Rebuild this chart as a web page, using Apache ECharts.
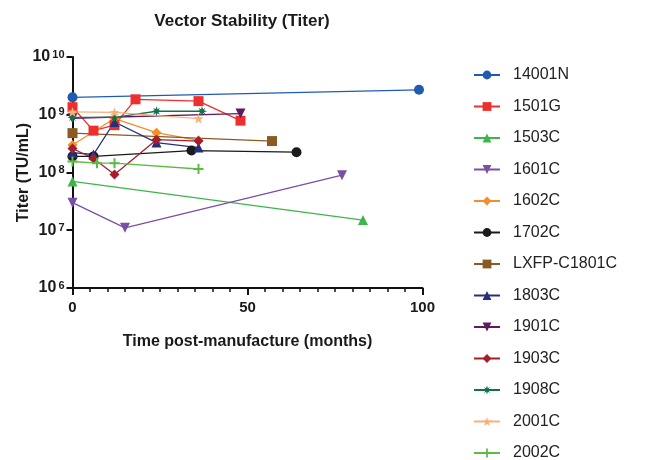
<!DOCTYPE html>
<html>
<head>
<meta charset="utf-8">
<script src="https://cdn.jsdelivr.net/npm/echarts@6/dist/echarts.min.js"></script>
<style>
  html, body { margin: 0; padding: 0; background: #fff; }
  #chart { width: 646px; height: 460px; }
</style>
</head>
<body>
<div id="chart"></div>
<script>
// months post-manufacture and titer (TU/mL) per lot
const m14001N = [0, 99];
const t14001N = [2.0e9, 2.7e9];
const m1501G = [0, 6, 12, 18, 36, 48];
const t1501G = [1.35e9, 5.3e8, 6.6e8, 1.85e9, 1.72e9, 7.9e8];
const m1503C = [0, 83];
const t1503C = [7.0e7, 1.5e7];
const m1601C = [0, 15, 77];
const t1601C = [3.0e7, 1.1e7, 9.0e7];
const m1602C = [0, 12, 24, 36];
const t1602C = [3.0e8, 8.6e8, 4.9e8, 3.6e8];
const m1702C = [0, 6, 34, 64];
const t1702C = [1.9e8, 1.9e8, 2.4e8, 2.25e8];
const mLXFP = [0, 57];
const tLXFP = [4.8e8, 3.5e8];
const m1803C = [0, 6, 12, 24, 36];
const t1803C = [2.2e8, 2.05e8, 7.5e8, 3.3e8, 2.7e8];
const m1901C = [0, 48];
const t1901C = [8.7e8, 1.05e9];
const m1903C = [0, 6, 12, 24, 36];
const t1903C = [2.6e8, 1.75e8, 9.2e7, 3.7e8, 3.5e8];
const m1908C = [0, 12, 24, 37];
const t1908C = [9.0e8, 9.0e8, 1.15e9, 1.15e9];
const m2001C = [0, 12, 36];
const t2001C = [1.12e9, 1.1e9, 8.6e8];
const m2002C = [0, 7, 12, 36];
const t2002C = [1.55e8, 1.45e8, 1.45e8, 1.15e8];

const xTicks = [0, 50, 100];

const plusPath = 'path://M4,0H6V4H10V6H6V10H4V6H0V4H4Z';
const burstPath = 'path://M5,0L6,3L8.5,1.5L7,4L10,5L7,6L8.5,8.5L6,7L5,10L4,7L1.5,8.5L3,6L0,5L3,4L1.5,1.5L4,3Z';
const starPath = 'path://M5,0L6.2,3.6L10,3.8L7,6.1L8.1,10L5,7.7L1.9,10L3,6.1L0,3.8L3.8,3.6Z';

const lots = [
  { name: '14001N', m: m14001N, t: t14001N, color: '#1f5cb0', symbol: 'circle' },
  { name: '1501G', m: m1501G, t: t1501G, color: '#ee2f2f', symbol: 'rect' },
  { name: '1503C', m: m1503C, t: t1503C, color: '#3db54b', symbol: 'triangle' },
  { name: '1601C', m: m1601C, t: t1601C, color: '#7a4fa6', symbol: 'triangle', rotate: 180 },
  { name: '1602C', m: m1602C, t: t1602C, color: '#f58d2a', symbol: 'diamond' },
  { name: '1702C', m: m1702C, t: t1702C, color: '#1a1a1a', symbol: 'circle' },
  { name: 'LXFP-C1801C', m: mLXFP, t: tLXFP, color: '#8a5a22', symbol: 'rect' },
  { name: '1803C', m: m1803C, t: t1803C, color: '#24307c', symbol: 'triangle' },
  { name: '1901C', m: m1901C, t: t1901C, color: '#5e1b5e', symbol: 'triangle', rotate: 180 },
  { name: '1903C', m: m1903C, t: t1903C, color: '#a61e2c', symbol: 'diamond' },
  { name: '1908C', m: m1908C, t: t1908C, color: '#13714b', symbol: burstPath },
  { name: '2001C', m: m2001C, t: t2001C, color: '#f6b07c', symbol: starPath },
  { name: '2002C', m: m2002C, t: t2002C, color: '#5cbb45', symbol: plusPath },
];

const font = 'Liberation Sans, Arial, sans-serif';

const chart = echarts.init(document.getElementById('chart'));

const option = {
  animation: false,
  title: {
    text: 'Vector Stability (Titer)',
    left: 237,
    top: 8,
    textAlign: 'center',
    textStyle: { fontFamily: font, fontSize: 17, fontWeight: 'bold', color: '#1a1a1a' },
  },
  legend: {
    orient: 'vertical',
    left: 473,
    top: 67,
    height: 400,
    padding: 0,
    itemWidth: 26,
    itemHeight: 11,
    itemGap: 15.5,
    textStyle: { fontFamily: font, fontSize: 16, color: '#222', padding: [0, 0, 0, 8] },
    data: lots.map((l) => l.name),
  },
  grid: { left: 72.5, top: 57, width: 350, height: 231 },
  xAxis: {
    type: 'value',
    min: 0,
    max: 100,
    interval: 50,
    name: 'Time post-manufacture (months)',
    nameLocation: 'middle',
    nameGap: 46,
    nameTextStyle: { fontFamily: font, fontSize: 16, fontWeight: 'bold', color: '#1a1a1a' },
    axisLine: { onZero: false, lineStyle: { color: '#111', width: 2 } },
    axisTick: { length: 7, lineStyle: { color: '#111', width: 2 } },
    minorTick: { show: true, splitNumber: 10, length: 4, lineStyle: { color: '#111', width: 1.5 } },
    axisLabel: {
      margin: 12,
      fontFamily: font,
      fontSize: 15,
      fontWeight: 'bold',
      color: '#1a1a1a',
      formatter: (v) => (xTicks.includes(v) ? String(v) : ''),
    },
    splitLine: { show: false },
  },
  yAxis: {
    type: 'log',
    logBase: 10,
    min: 1e6,
    max: 1e10,
    splitNumber: 4,
    name: 'Titer (TU/mL)',
    nameLocation: 'middle',
    nameGap: 41,
    nameMoveOverlap: false,
    nameTextStyle: { fontFamily: font, fontSize: 16, fontWeight: 'bold', color: '#1a1a1a' },
    axisLine: { show: true, lineStyle: { color: '#111', width: 2 } },
    axisTick: { show: true, length: 6, lineStyle: { color: '#111', width: 2 } },
    axisLabel: {
      margin: 8,
      color: '#1a1a1a',
      formatter: (v) => '{b|10}{s|' + Math.round(Math.log10(v)) + '}',
      rich: {
        b: { fontFamily: font, fontSize: 16, fontWeight: 'bold', color: '#1a1a1a' },
        s: { fontFamily: font, fontSize: 11, fontWeight: 'bold', color: '#1a1a1a', verticalAlign: 'top', padding: [0, 0, 4, 2] },
      },
    },
    splitLine: { show: false },
  },
  series: lots.map((l) => ({
    name: l.name,
    type: 'line',
    data: l.m.map((x, i) => [x, l.t[i]]),
    symbol: l.symbol,
    symbolRotate: l.rotate || 0,
    symbolSize: 10,
    showAllSymbol: true,
    color: l.color,
    lineStyle: { width: 1.3, color: l.color },
    itemStyle: { color: l.color },
  })),
};

chart.setOption(option);
</script>
</body>
</html>
